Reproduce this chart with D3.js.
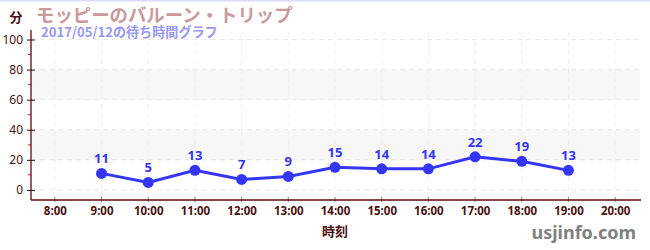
<!DOCTYPE html>
<html><head><meta charset="utf-8">
<script src="https://cdn.jsdelivr.net/npm/d3@7"></script>
<style>
html,body{margin:0;padding:0;background:#fff;}
svg{display:block;font-family:"Noto Sans CJK JP","Noto Sans",sans-serif;}
</style></head>
<body>
<script>
const hours = [9, 10, 11, 12, 13, 14, 15, 16, 17, 18, 19];
const waits = [11, 5, 13, 7, 9, 15, 14, 14, 22, 19, 13];
const xTickHours = [8, 9, 10, 11, 12, 13, 14, 15, 16, 17, 18, 19, 20];
const yTicks = [0, 20, 40, 60, 80, 100];
const yMinorTicks = [10, 30, 50, 70, 90];
const bands = [[20, 40], [60, 80]];
const title = "モッピーのバルーン・トリップ";
const subtitle = "2017/05/12の待ち時間グラフ";

(function(){
const W = 650, H = 250;
const svg = d3.select("body").append("svg").attr("width", W).attr("height", H);
svg.append("rect").attr("x",0).attr("y",0).attr("width",W).attr("height",1.5).attr("fill","#dcdcf6");

const pLeft = 31, pRight = 640, pTop = 32, pBottom = 200;
const x = d3.scaleLinear().domain([7.5, 20.5]).range([pLeft + 0.5, pRight - 1.5]);
const y = d3.scaleLinear().domain([-6.7, 105]).range([pBottom, pTop]);

svg.selectAll("rect.band").data(bands).enter().append("rect")
  .attr("x", pLeft).attr("width", pRight - pLeft)
  .attr("y", d => y(d[1])).attr("height", d => y(d[0]) - y(d[1]))
  .attr("fill", "#f7f7f7");

svg.selectAll("line.hg").data(yTicks).enter().append("line")
  .attr("x1", pLeft).attr("x2", pRight).attr("y1", d => y(d)).attr("y2", d => y(d))
  .attr("stroke", "#e8e8e8").attr("stroke-dasharray", "5,4");
svg.selectAll("line.vg").data(xTickHours).enter().append("line")
  .attr("x1", d => x(d)).attr("x2", d => x(d)).attr("y1", pTop).attr("y2", pBottom)
  .attr("stroke", "#f0f0f0").attr("stroke-dasharray", "5,4");

const yAxis = svg.append("g").attr("transform", `translate(${pLeft},0)`)
  .call(d3.axisLeft(y).tickValues(yTicks).tickSize(4).tickPadding(3).tickFormat(d3.format("d")));
yAxis.select(".domain").remove();
yAxis.selectAll(".tick line").attr("x2", 4).attr("x1", -4).attr("stroke", "#3a0a0a");
yAxis.selectAll(".tick text").attr("font-size", 12).attr("fill", "#4a1010")
  .attr("font-family", "'Liberation Sans Narrow','Noto Sans',sans-serif").attr("dx", -1);
svg.selectAll("line.ym").data(yMinorTicks).enter().append("line")
  .attr("x1", pLeft - 3).attr("x2", pLeft).attr("y1", d => y(d)).attr("y2", d => y(d))
  .attr("stroke", "#d02020");
svg.append("line").attr("x1", pLeft).attr("x2", pLeft).attr("y1", pTop - 2).attr("y2", pBottom)
  .attr("stroke", "#5a0a0a").attr("stroke-width", 1.3);

const xAxis = svg.append("g").attr("transform", `translate(0,${pBottom})`)
  .call(d3.axisBottom(x).tickValues(xTickHours).tickSize(0).tickPadding(7).tickFormat(d => d + ":00"));
xAxis.select(".domain").remove();
xAxis.selectAll(".tick text").attr("font-size", 11.5).attr("fill", "#4a1010").attr("font-weight", "bold")
  .attr("font-family", "'Liberation Sans Narrow','Noto Sans',sans-serif");
svg.selectAll("line.xt").data(xTickHours).enter().append("line")
  .attr("x1", d => x(d)).attr("x2", d => x(d)).attr("y1", pBottom - 3).attr("y2", pBottom + 2)
  .attr("stroke", "#888");
svg.append("line").attr("x1", pLeft).attr("x2", pRight + 1).attr("y1", pBottom).attr("y2", pBottom)
  .attr("stroke", "#5a0a0a").attr("stroke-width", 1.5);

const line = d3.line().x((d, i) => x(hours[i])).y(d => y(d));
svg.append("path").datum(waits).attr("d", line).attr("fill", "none")
  .attr("stroke", "#3535f5").attr("stroke-width", 3);
svg.selectAll("circle.pt").data(waits).enter().append("circle")
  .attr("cx", (d, i) => x(hours[i])).attr("cy", d => y(d)).attr("r", 5.5).attr("fill", "#3535f5");
svg.selectAll("text.lbl").data(waits).enter().append("text")
  .attr("x", (d, i) => x(hours[i])).attr("y", d => y(d) - 10)
  .attr("text-anchor", "middle").attr("font-size", 13).attr("font-weight", "bold")
  .attr("fill", "#3535f5").attr("font-family", "'Noto Sans',sans-serif").text(d => d);

svg.append("text").attr("x", 36).attr("y", 21.5).attr("font-size", 18.4).attr("font-weight", "bold")
  .attr("fill", "#c99a9c").text(title);
svg.append("text").attr("x", 41).attr("y", 36.5).attr("font-size", 13.1).attr("font-weight", "bold")
  .attr("fill", "#9898f0").text(subtitle);
svg.append("text").attr("x", 16).attr("y", 22).attr("text-anchor", "middle").attr("font-size", 13)
  .attr("font-weight", "bold").attr("fill", "#4a1010").text("分");
svg.append("text").attr("x", 335).attr("y", 236).attr("text-anchor", "middle").attr("font-size", 13)
  .attr("font-weight", "bold").attr("fill", "#4a1010").text("時刻");
svg.append("text").attr("x", 636).attr("y", 239).attr("text-anchor", "end").attr("font-size", 18)
  .attr("font-weight", "bold").attr("fill", "#808080").attr("font-family", "'Noto Sans',sans-serif").text("usjinfo.com");
})();
</script>
</body></html>
